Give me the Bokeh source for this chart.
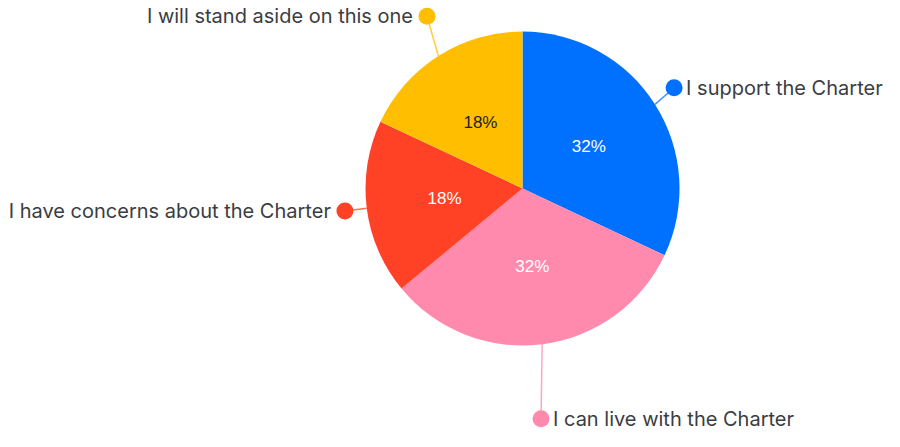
import math
from bokeh.plotting import figure
from bokeh.models import Range1d, ColumnDataSource
from bokeh.core.properties import value
from bokeh.embed import file_html
from bokeh.resources import INLINE

# ---- data ----
categories = ["I support the Charter", "I can live with the Charter",
              "I have concerns about the Charter", "I will stand aside on this one"]
shares = [32, 32, 18, 18]
colors = ["#0070FF", "#FF8AAE", "#FF4126", "#FFBE00"]
pct_text_colors = ["#FFFFFF", "#FFFFFF", "#FFFFFF", "#222222"]

# ---- layout / style ----
R = 157
dot_r = [182, 231, 179, 197]          # distance of label dots from centre
dot_shift = [1.2, -2.6, 0.0, -3.4]    # small angular adjustments (deg)
label_side = ["left", "left", "right", "right"]

W, H = 884, 431
p = figure(width=W, height=H, output_backend="svg", toolbar_location=None,
           x_range=Range1d(-522, 362), y_range=Range1d(-243, 188),
           min_border=0, outline_line_color=None)
p.axis.visible = False
p.grid.visible = False
p.background_fill_color = "white"
p.border_fill_color = "white"

total = float(sum(shares))
starts, ends, mids = [], [], []
cum = 0.0
for s in shares:
    a0 = math.pi / 2 - 2 * math.pi * cum / total
    cum += s
    a1 = math.pi / 2 - 2 * math.pi * cum / total
    starts.append(a0)
    ends.append(a1)
    mids.append((a0 + a1) / 2)

p.wedge(x=0, y=0, radius=R, start_angle=starts, end_angle=ends,
        direction="clock", fill_color=colors, line_color=None)

# leader lines and dots
x0 = [R * math.cos(m) for m in mids]
y0 = [R * math.sin(m) for m in mids]
dang = [m + math.radians(d) for m, d in zip(mids, dot_shift)]
x1 = [r * math.cos(a) for r, a in zip(dot_r, dang)]
y1 = [r * math.sin(a) for r, a in zip(dot_r, dang)]
p.segment(x0=x0, y0=y0, x1=x1, y1=y1, line_color=colors, line_width=1.5, line_alpha=0.75)
p.scatter(x=x1, y=y1, size=17, marker="circle", fill_color=colors, line_color=None)

for i in range(len(categories)):
    left = label_side[i] == "left"
    p.text(x=[x1[i]], y=[y1[i]], text=[categories[i]],
           x_offset=12 if left else -14,
           text_align="left" if left else "right", text_baseline="middle",
           text_font=value("Inter"), text_font_size="20px", text_color="#3a3d42")

# percentage labels
px = [0.5 * R * math.cos(m) for m in mids]
py = [0.5 * R * math.sin(m) for m in mids]
src = ColumnDataSource(dict(x=px, y=py, t=[f"{s}%" for s in shares], c=pct_text_colors))
p.text(x="x", y="y", text="t", source=src, text_color="c",
       text_align="center", text_baseline="middle",
       text_font=value("Liberation Sans"), text_font_size="17px")

open("out.html", "w").write(file_html(p, INLINE))
